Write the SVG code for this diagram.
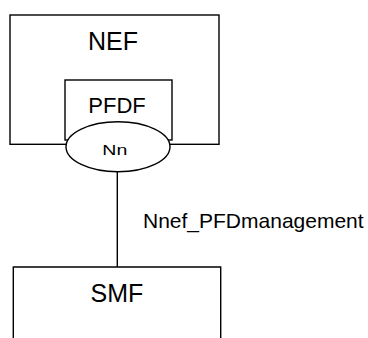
<svg xmlns="http://www.w3.org/2000/svg" width="368" height="338" viewBox="0 0 368 338">
<style>
.box{fill:none;stroke:#000;stroke-width:1.4}
.fill{fill:#fff;stroke:#000;stroke-width:1.4}
.t{font-family:"Liberation Sans",Arial,sans-serif;fill:#000}
.c{stroke:#000;stroke-width:1.4;fill:none}
</style>
<rect width="368" height="338" fill="#fff"/>
<g id="NEF">
<rect class="box" x="10" y="15" width="209" height="129.3"/>
<text class="t" x="113" y="50" font-size="25" text-anchor="middle">NEF</text>
</g>
<g id="PFDF">
<rect class="box" x="65" y="80" width="107" height="60"/>
<text class="t" x="117" y="113.3" font-size="22" text-anchor="middle">PFDF</text>
</g>
<g id="Nn">
<ellipse class="fill" cx="118" cy="146.8" rx="52" ry="25"/>
<text class="t" x="114.8" y="155" font-size="15" text-anchor="middle" textLength="25" lengthAdjust="spacingAndGlyphs">Nn</text>
</g>
<g id="connectors">
<line class="c" x1="117.3" y1="171.8" x2="117.3" y2="267"/>
<text class="t" x="143" y="227.5" font-size="21">Nnef_PFDmanagement</text>
</g>
<g id="SMF">
<path class="box" d="M13.3 340 V267 H220.7 V340"/>
<text class="t" x="117" y="301.7" font-size="25" text-anchor="middle">SMF</text>
</g>
</svg>
